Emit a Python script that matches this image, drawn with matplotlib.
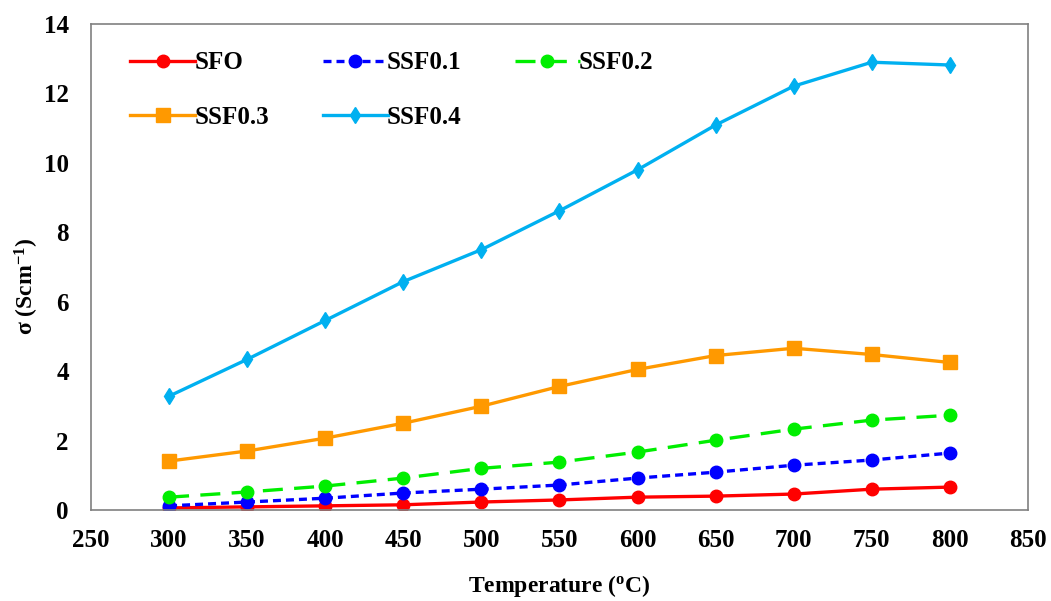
import matplotlib.pyplot as plt

temps = [300, 350, 400, 450, 500, 550, 600, 650, 700, 750, 800]

sfo = [0.06, 0.09, 0.12, 0.15, 0.23, 0.29, 0.37, 0.40, 0.46, 0.60, 0.66]
ssf01 = [0.12, 0.23, 0.34, 0.49, 0.60, 0.72, 0.92, 1.09, 1.29, 1.44, 1.64]
ssf02 = [0.37, 0.52, 0.69, 0.92, 1.20, 1.38, 1.67, 2.01, 2.33, 2.59, 2.73]
ssf03 = [1.41, 1.70, 2.07, 2.50, 2.99, 3.56, 4.05, 4.45, 4.66, 4.48, 4.25]
ssf04 = [3.28, 4.34, 5.46, 6.58, 7.50, 8.62, 9.80, 11.09, 12.21, 12.90, 12.82]

plt.rcParams["font.family"] = ["Liberation Serif", "DejaVu Serif"]
plt.rcParams["font.weight"] = "bold"
plt.rcParams["mathtext.fontset"] = "custom"
plt.rcParams["mathtext.rm"] = "Liberation Serif:bold"
plt.rcParams["mathtext.bf"] = "Liberation Serif:bold"

fig = plt.figure(figsize=(10.51, 6.01), dpi=100)
ax = fig.add_axes([0.0866, 0.1514, 0.8914, 0.8086])

lw = 2.4
l_sfo, = ax.plot(temps, sfo, color="#FF0000", lw=lw, marker="o", ms=9,
                 label="SFO")
l_01, = ax.plot(temps, ssf01, color="#0000FF", lw=lw, ls=(0, (2.4, 1.5)),
                marker="o", ms=9, label="SSF0.1")
l_02, = ax.plot(temps, ssf02, color="#00EE00", lw=lw, ls=(0, (6.0, 3.4)),
                marker="o", ms=9, label="SSF0.2")
l_03, = ax.plot(temps, ssf03, color="#FF9900", lw=lw, marker="s", ms=10,
                label="SSF0.3")
l_04, = ax.plot(temps, ssf04, color="#00B0F0", lw=lw, marker="d", ms=8,
                label="SSF0.4")

ax.set_xlim(250, 850)
ax.set_ylim(0, 14)
ax.set_xticks(range(250, 851, 50))
ax.set_yticks(range(0, 15, 2))
ax.tick_params(length=0, labelsize=18)
ax.tick_params(axis="x", pad=14)
ax.tick_params(axis="y", pad=16)
for lab in ax.get_xticklabels() + ax.get_yticklabels():
    lab.set_fontweight("bold")
for sp in ax.spines.values():
    sp.set_color("#808080")
    sp.set_linewidth(1.2)

ax.set_xlabel("Temperature ($\\mathbf{^{o}}$C)", fontsize=17,
              fontweight="bold", labelpad=15)
ax.set_ylabel("σ (Scm$\\mathbf{^{-1}}$)", fontsize=17, fontweight="bold")
ax.yaxis.set_label_coords(-0.053, 0.46)

# column-major fill: reorder so rows read SFO, SSF0.1, SSF0.2 / SSF0.3, SSF0.4
handles = [l_sfo, l_03, l_01, l_04, l_02]
ax.legend(handles, [h.get_label() for h in handles],
          loc="upper left", ncol=3, frameon=False,
          handlelength=2.6, labelspacing=1.25, columnspacing=2.15,
          handletextpad=-0.05, bbox_to_anchor=(0.018, 0.99),
          prop={"weight": "bold", "size": 18})

fig.savefig("out.png", dpi=100)
